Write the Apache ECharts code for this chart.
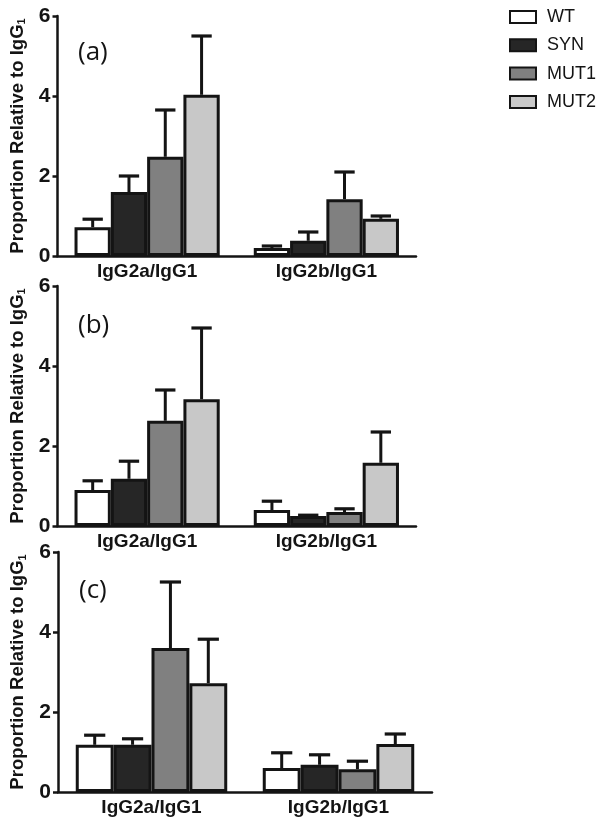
<!DOCTYPE html>
<html>
<head>
<meta charset="utf-8">
<script src="https://cdn.jsdelivr.net/npm/echarts@6/dist/echarts.min.js"></script>
<style>
html,body{margin:0;padding:0;background:#fff;}
#chart{width:604px;height:831px;}
</style>
</head>
<body>
<div id="chart"></div>
<script>
// ---- data ----
const categories = ['IgG2a/IgG1', 'IgG2b/IgG1'];
const groups = ['WT', 'SYN', 'MUT1', 'MUT2'];
const yTicks = [0, 2, 4, 6];
const panelLabels = ['(a)', '(b)', '(c)'];

// panel (a) means and SD
const aWT = [0.72, 0.20], aSYN = [1.60, 0.38], aMUT1 = [2.48, 1.42], aMUT2 = [4.03, 0.93];
const aWT_sd = [0.20, 0.05], aSYN_sd = [0.40, 0.22], aMUT1_sd = [1.17, 0.68], aMUT2_sd = [1.47, 0.07];
// panel (b)
const bWT = [0.90, 0.40], bSYN = [1.18, 0.25], bMUT1 = [2.63, 0.35], bMUT2 = [3.17, 1.58];
const bWT_sd = [0.23, 0.22], bSYN_sd = [0.44, 0.02], bMUT1_sd = [0.77, 0.08], bMUT2_sd = [1.78, 0.77];
// panel (c)
const cWT = [1.18, 0.60], cSYN = [1.18, 0.68], cMUT1 = [3.60, 0.57], cMUT2 = [2.72, 1.20];
const cWT_sd = [0.24, 0.38], cSYN_sd = [0.15, 0.25], cMUT1_sd = [1.65, 0.20], cMUT2_sd = [1.10, 0.25];

const panels = [
  { means: [aWT, aSYN, aMUT1, aMUT2], sds: [aWT_sd, aSYN_sd, aMUT1_sd, aMUT2_sd] },
  { means: [bWT, bSYN, bMUT1, bMUT2], sds: [bWT_sd, bSYN_sd, bMUT1_sd, bMUT2_sd] },
  { means: [cWT, cSYN, cMUT1, cMUT2], sds: [cWT_sd, cSYN_sd, cMUT1_sd, cMUT2_sd] }
];

// ---- style ----
const fills = ['#ffffff', '#262626', '#808080', '#c8c8c8'];
const INK = '#141414';
const GAP = 0.19;
const FONT = '"Liberation Sans", Arial, sans-serif';
const gridPos = [
  { left: 57, top: 16, width: 359, height: 240 },
  { left: 57, top: 286, width: 359, height: 240 },
  { left: 58, top: 552, width: 374, height: 240 }
];
const labelTops = [35, 308, 573];

const chart = echarts.init(document.getElementById('chart'), null, { renderer: 'canvas' });

const grids = [], xAxes = [], yAxes = [], series = [], titles = [];
panels.forEach((p, pi) => {
  grids.push(Object.assign({ containLabel: false }, gridPos[pi]));
  xAxes.push({
    type: 'category', gridIndex: pi, data: categories,
    axisLine: { lineStyle: { color: INK, width: 2.5 } },
    axisTick: { alignWithLabel: true, length: 8, lineStyle: { color: INK, width: 2.5 } },
    axisLabel: { color: INK, fontFamily: FONT, fontWeight: 'bold', fontSize: 19, margin: 6 }
  });
  yAxes.push({
    type: 'value', gridIndex: pi, min: 0, max: 6, interval: 2,
    name: '{m|Proportion Relative to IgG}{s|1}',
    nameLocation: 'middle', nameGap: 30, nameRotate: 90,
    nameTextStyle: {
      rich: {
        m: { fontFamily: FONT, fontWeight: 'bold', fontSize: 18.5, color: INK },
        s: { fontFamily: FONT, fontWeight: 'bold', fontSize: 11, color: INK, padding: [9, 0, 0, 0] }
      }
    },
    splitLine: { show: false },
    axisLine: { show: true, lineStyle: { color: INK, width: 2.5 } },
    axisTick: { show: true, length: 5, lineStyle: { color: INK, width: 2.5 } },
    axisLabel: { color: INK, fontFamily: FONT, fontWeight: 'bold', fontSize: 21, margin: 7,
      formatter: v => (yTicks.indexOf(v) >= 0 ? String(v) : '') }
  });
  titles.push({
    text: panelLabels[pi], left: gridPos[pi].left + 16, top: labelTops[pi],
    textStyle: { fontFamily: '"Open Sans", sans-serif', fontWeight: 'normal', fontSize: 26, color: INK }
  });
  groups.forEach((g, gi) => {
    series.push({
      name: g, type: 'bar', xAxisIndex: pi, yAxisIndex: pi,
      data: p.means[gi],
      barGap: '0%', barCategoryGap: (GAP * 100) + '%',
      itemStyle: { color: fills[gi], borderColor: INK, borderWidth: 3 },
      emphasis: { disabled: true }, z: 2
    });
  });
  groups.forEach((g, gi) => {
    series.push({
      type: 'custom', xAxisIndex: pi, yAxisIndex: pi, z: 3,
      encode: { x: 0, y: [1, 2] },
      data: p.means[gi].map((m, i) => [i, m, m + p.sds[gi][i]]),
      renderItem: (params, api) => {
        const c = api.value(0);
        const base = api.coord([c, api.value(1)]);
        const top = api.coord([c, api.value(2)]);
        const band = api.size([1, 0])[0];
        const bw = band * (1 - GAP) / 4;
        const x = base[0] + (gi - 1.5) * bw;
        const cap = bw * 0.56;
        return {
          type: 'group', children: [
            { type: 'line', shape: { x1: x, y1: base[1], x2: x, y2: top[1] }, style: { stroke: INK, lineWidth: 3 } },
            { type: 'line', shape: { x1: x - cap / 2, y1: top[1], x2: x + cap / 2, y2: top[1] }, style: { stroke: INK, lineWidth: 3.2 } }
          ]
        };
      }
    });
  });
});

chart.setOption({
  animation: false,
  backgroundColor: '#ffffff',
  title: titles,
  grid: grids, xAxis: xAxes, yAxis: yAxes, series: series,
  legend: {
    data: groups.map(g => ({ name: g, icon: 'rect' })),
    orient: 'vertical', left: 504, top: 3,
    itemWidth: 26, itemHeight: 12, itemGap: 10.3,
    selectedMode: false,
    textStyle: { fontFamily: FONT, fontSize: 18, color: INK, padding: [0, 0, 0, 6] }
  }
});
</script>
</body>
</html>
